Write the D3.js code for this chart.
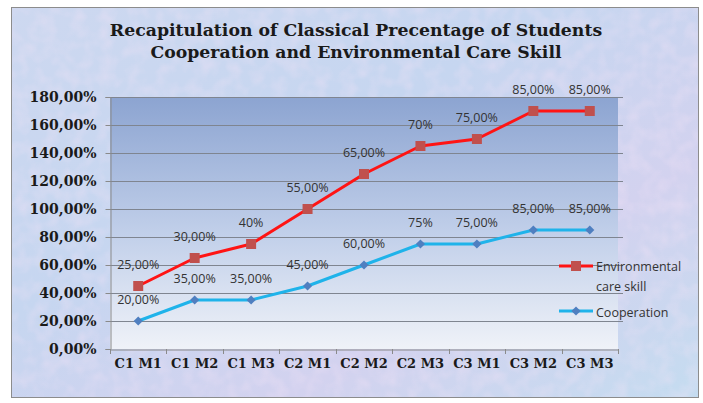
<!DOCTYPE html>
<html><head><meta charset="utf-8">
<script src="https://cdn.jsdelivr.net/npm/d3@7"></script>
<style>body{margin:0;background:#fff;}svg{display:block;}</style>
</head><body>
<svg id="chart" width="703" height="403"></svg>
<script>
const categories = ["C1 M1","C1 M2","C1 M3","C2 M1","C2 M2","C2 M3","C3 M1","C3 M2","C3 M3"];
const cooperation = [20,35,35,45,60,75,75,85,85];
const environmental = [25,30,40,55,65,70,75,85,85];
const cooperationLabels = ["20,00%","35,00%","35,00%","45,00%","60,00%","75%","75,00%","85,00%","85,00%"];
const environmentalLabels = ["25,00%","30,00%","40%","55,00%","65,00%","70%","75,00%","85,00%","85,00%"];
const yTicks = [0,20,40,60,80,100,120,140,160,180];
const titleLines = ["Recapitulation of Classical Precentage of Students","Cooperation and Environmental Care Skill"];

const svg = d3.select("#chart");
const defs = svg.append("defs");
const bg = defs.append("linearGradient").attr("id","bg").attr("x1",0).attr("y1",0).attr("x2",1).attr("y2",1);
bg.append("stop").attr("offset","0%").attr("stop-color","#cdd8f0");
bg.append("stop").attr("offset","40%").attr("stop-color","#c6d6f0");
bg.append("stop").attr("offset","70%").attr("stop-color","#d3d2ef");
bg.append("stop").attr("offset","100%").attr("stop-color","#c4dcf0");
const pg = defs.append("linearGradient").attr("id","pg").attr("x1",0).attr("y1",0).attr("x2",0).attr("y2",1);
pg.append("stop").attr("offset","0%").attr("stop-color","#8ca4d1");
pg.append("stop").attr("offset","55%").attr("stop-color","#c2d0ea");
pg.append("stop").attr("offset","100%").attr("stop-color","#eff2f8");
const f = defs.append("filter").attr("id","tex").attr("x",0).attr("y",0).attr("width","100%").attr("height","100%");
f.append("feTurbulence").attr("type","fractalNoise").attr("baseFrequency","0.07").attr("numOctaves",2).attr("seed",3).attr("result","n");
f.append("feColorMatrix").attr("in","n").attr("type","matrix")
 .attr("values","0 0 0 0 0.93  0 0 0 0 0.78  0 0 0 0 0.93  0 0 -1.3 0 0.8").attr("result","c");
f.append("feComposite").attr("in","c").attr("in2","SourceGraphic").attr("operator","in");

// outer frame
svg.append("rect").attr("x",11.5).attr("y",7.5).attr("width",687).attr("height",390)
  .attr("fill","url(#bg)").attr("stroke","#8c8c8c").attr("stroke-width",1);
svg.append("rect").attr("x",12).attr("y",8).attr("width",686).attr("height",389)
  .attr("fill","#fff").attr("filter","url(#tex)").attr("opacity",0.5);

const m = {left:110, right:618, top:97, bottom:349};
const x = d3.scaleBand().domain(categories).range([m.left,m.right]);
const y = d3.scaleLinear().domain([0,180]).range([m.bottom,m.top]);

// plot area
svg.append("rect").attr("x",m.left).attr("y",m.top).attr("width",m.right-m.left).attr("height",m.bottom-m.top)
  .attr("fill","url(#pg)");

// gridlines
svg.append("g").selectAll("line").data(yTicks.filter(d=>d>0)).join("line")
  .attr("x1",m.left).attr("x2",m.right+5).attr("y1",d=>Math.round(y(d))+0.5).attr("y2",d=>Math.round(y(d))+0.5)
  .attr("stroke","#7f8590").attr("stroke-width",1);

// y axis
const yAxis = d3.axisLeft(y).tickValues(yTicks).tickSize(5).tickFormat(d=>d3.format(".2f")(d).replace(".",",")+"%");
const gy = svg.append("g").attr("transform",`translate(${m.left+0.5},0)`).call(yAxis);
gy.select(".domain").attr("stroke","#8a8a8a");
gy.selectAll(".tick line").attr("stroke","#8a8a8a");
gy.selectAll(".tick text").attr("x",-14).attr("dy","0.35em")
  .attr("font-family","'DejaVu Serif', serif").attr("font-weight","bold").attr("font-size",14).attr("fill","#1a1a1a");

// x axis
const xAxis = d3.axisBottom(x).tickSize(0);
const gx = svg.append("g").attr("transform",`translate(0,${m.bottom+0.5})`).call(xAxis);
gx.select(".domain").attr("stroke","#8a8a8a");
gx.selectAll(".tick text").attr("y",14).attr("dy","0.35em")
  .attr("font-family","'DejaVu Serif', serif").attr("font-weight","bold").attr("font-size",13).attr("fill","#1a1a1a");
svg.append("g").selectAll("line").data(categories.concat(["end"])).join("line")
  .attr("x1",(d,i)=>Math.round(m.left+i*x.bandwidth())+0.5).attr("x2",(d,i)=>Math.round(m.left+i*x.bandwidth())+0.5)
  .attr("y1",m.bottom).attr("y2",m.bottom+5).attr("stroke","#8a8a8a");

// series (stacked)
const envCum = environmental.map((v,i)=>v+cooperation[i]);
const cx = d=>x(d)+x.bandwidth()/2;
const line = d3.line().x(d=>cx(d.c)).y(d=>y(d.v));
const coopPts = categories.map((c,i)=>({c, v:cooperation[i], l:cooperationLabels[i]}));
const envPts = categories.map((c,i)=>({c, v:envCum[i], l:environmentalLabels[i]}));
const red = "#ff1414", redM = "#c0504d", blue = "#1fb3ea", blueM = "#4f7fc0";

svg.append("path").datum(envPts).attr("d",line).attr("fill","none").attr("stroke",red).attr("stroke-width",3).attr("stroke-linejoin","round");
svg.append("path").datum(coopPts).attr("d",line).attr("fill","none").attr("stroke",blue).attr("stroke-width",3).attr("stroke-linejoin","round");

const sq = d3.symbol().type(d3.symbolSquare).size(100);
const dm = d3.symbol().type(d3.symbolSquare).size(42);
svg.append("g").selectAll("path").data(envPts).join("path").attr("d",sq)
  .attr("transform",d=>`translate(${cx(d.c)},${y(d.v)})`).attr("fill",redM);
svg.append("g").selectAll("path").data(coopPts).join("path").attr("d",dm)
  .attr("transform",d=>`translate(${cx(d.c)},${y(d.v)}) rotate(45)`).attr("fill",blueM);

const lblFont = "'Open Sans', sans-serif";
[envPts, coopPts].forEach(pts=>{
  svg.append("g").selectAll("text").data(pts).join("text")
    .attr("x",d=>cx(d.c)).attr("y",d=>y(d.v)-21).attr("dy","0.35em").attr("text-anchor","middle")
    .attr("font-family",lblFont).attr("font-size",12.5).attr("fill","#333").text(d=>d.l);
});

// legend
const lg = svg.append("g");
lg.append("line").attr("x1",559).attr("x2",593).attr("y1",266).attr("y2",266).attr("stroke",red).attr("stroke-width",3);
lg.append("path").attr("d",sq).attr("transform","translate(576,266)").attr("fill",redM);
lg.append("text").attr("x",596).attr("y",267).attr("dy","0.35em").attr("font-family",lblFont).attr("font-size",12.5).attr("fill","#333").text("Environmental");
lg.append("text").attr("x",596).attr("y",287).attr("dy","0.35em").attr("font-family",lblFont).attr("font-size",12.5).attr("fill","#333").text("care skill");
lg.append("line").attr("x1",559).attr("x2",593).attr("y1",311).attr("y2",311).attr("stroke",blue).attr("stroke-width",3);
lg.append("path").attr("d",dm).attr("transform","translate(576,311) rotate(45)").attr("fill",blueM);
lg.append("text").attr("x",596).attr("y",313).attr("dy","0.35em").attr("font-family",lblFont).attr("font-size",12.5).attr("fill","#333").text("Cooperation");

// title
svg.append("g").selectAll("text").data(titleLines).join("text")
  .attr("x",356).attr("y",(d,i)=>30+i*22).attr("dy","0.35em").attr("text-anchor","middle")
  .attr("font-family","'DejaVu Serif', serif").attr("font-weight","bold").attr("font-size",17.3).attr("fill","#1a1a1a")
  .text(d=>d);
</script>
</body></html>
